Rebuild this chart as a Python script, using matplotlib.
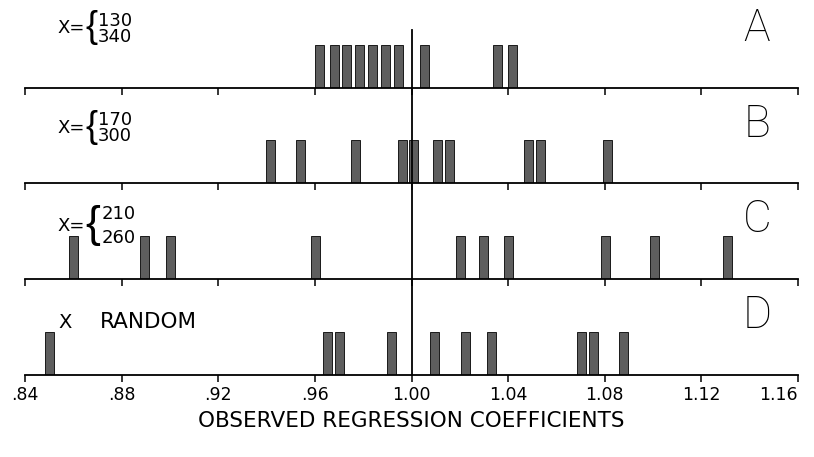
import numpy as np
import matplotlib
matplotlib.use("Agg")
from matplotlib import pyplot as plt

# Dane
panel_letters = ["A", "B", "C", "D"]
panel_labels = [("130", "340"), ("170", "300"), ("210", "260"), None]
coef_a = [0.9618, 0.9681, 0.9732, 0.9783, 0.9840, 0.9891, 0.9945, 1.0055, 1.0357, 1.0419]
coef_b = [0.9418, 0.9540, 0.9767, 0.9962, 1.0008, 1.0108, 1.0157, 1.0484, 1.0535, 1.0813]
coef_c = [0.8601, 0.8896, 0.9001, 0.9604, 1.0202, 1.0298, 1.0401, 1.0805, 1.1006, 1.1307]
coef_d = [0.8500, 0.9652, 0.9702, 0.9917, 1.0095, 1.0225, 1.0333, 1.0703, 1.0754, 1.0878]
tick_values = [0.84, 0.88, 0.92, 0.96, 1.00, 1.04, 1.08, 1.12, 1.16]
tick_labels = [".84", ".88", ".92", ".96", "1.00", "1.04", "1.08", "1.12", "1.16"]

W, H = 814, 457
fig = plt.figure(figsize=(W / 100, H / 100), dpi=100)


def fx(x):
    return x / W


def fy(y):
    return 1 - y / H


baselines = [87.7, 183.3, 279.0, 375.0]
tops = [0.0, 87.7, 183.3, 279.0]
bar_h = 43
bar_w = 0.0037
left, right = 25, 798
# (srodek X=, srodek liczb, odstep linii, rozmiar klamry, x liczb) wzgledem osi
label_pos = [(-60, -59, 0.85, 26, 98), (-55, -55, 0.85, 26, 98), (-53, -53, 1.45, 32, 102)]

for i, coefs in enumerate([coef_a, coef_b, coef_c, coef_d]):
    hgt = baselines[i] - tops[i]
    ax = fig.add_axes([fx(left), fy(baselines[i]), (right - left) / W, hgt / H])
    ax.set_xlim(0.84, 1.16)
    ax.set_ylim(0, hgt)
    ax.bar(coefs, bar_h, width=bar_w, color="#5e5e5e", edgecolor="#1a1a1a", linewidth=0.7)
    for s in ["top", "left", "right"]:
        ax.spines[s].set_visible(False)
    ax.spines["bottom"].set_linewidth(1.3)
    ax.set_yticks([])
    ax.set_xticks(tick_values)
    ax.tick_params(axis="x", direction="out", length=5, width=1.1, pad=3)
    if i == 3:
        ax.set_xticklabels(tick_labels, fontsize=12.5)
        ax.get_xticklabels()[-1].set_horizontalalignment("right")
        ax.get_xticklabels()[-1].set_x(1.1625)
    else:
        ax.set_xticklabels([])
    ymax = (hgt - 30) / hgt if i == 0 else 1
    ax.axvline(1.0, ymin=0, ymax=ymax, color="black", linewidth=1.3)
    ax.patch.set_alpha(0)

    # litery paneli
    fig.text(fx(757), fy(baselines[i] - 59), panel_letters[i], fontsize=32,
             family="Roboto", fontweight=200, ha="center", va="center")

    # opisy X
    b = baselines[i]
    if panel_labels[i] is not None:
        yx, yn, ls, bs, xn = label_pos[i]
        fig.text(fx(57), fy(b + yx), "X=", fontsize=13, ha="left", va="center")
        fig.text(fx(85), fy(b + yn - 1), "{", fontsize=bs, family="Liberation Sans",
                 fontweight="light", ha="left", va="center")
        fig.text(fx(xn), fy(b + yn), panel_labels[i][0] + "\n" + panel_labels[i][1],
                 fontsize=13, linespacing=ls, ha="left", va="center")
    else:
        fig.text(fx(58), fy(b - 53), "X", fontsize=14, ha="left", va="center")
        fig.text(fx(100), fy(b - 53), "RANDOM", fontsize=15.5, ha="left", va="center")

fig.text(fx(411), fy(421), "OBSERVED REGRESSION COEFFICIENTS", fontsize=15.5,
         ha="center", va="center")

fig.savefig("out.png", dpi=100)
